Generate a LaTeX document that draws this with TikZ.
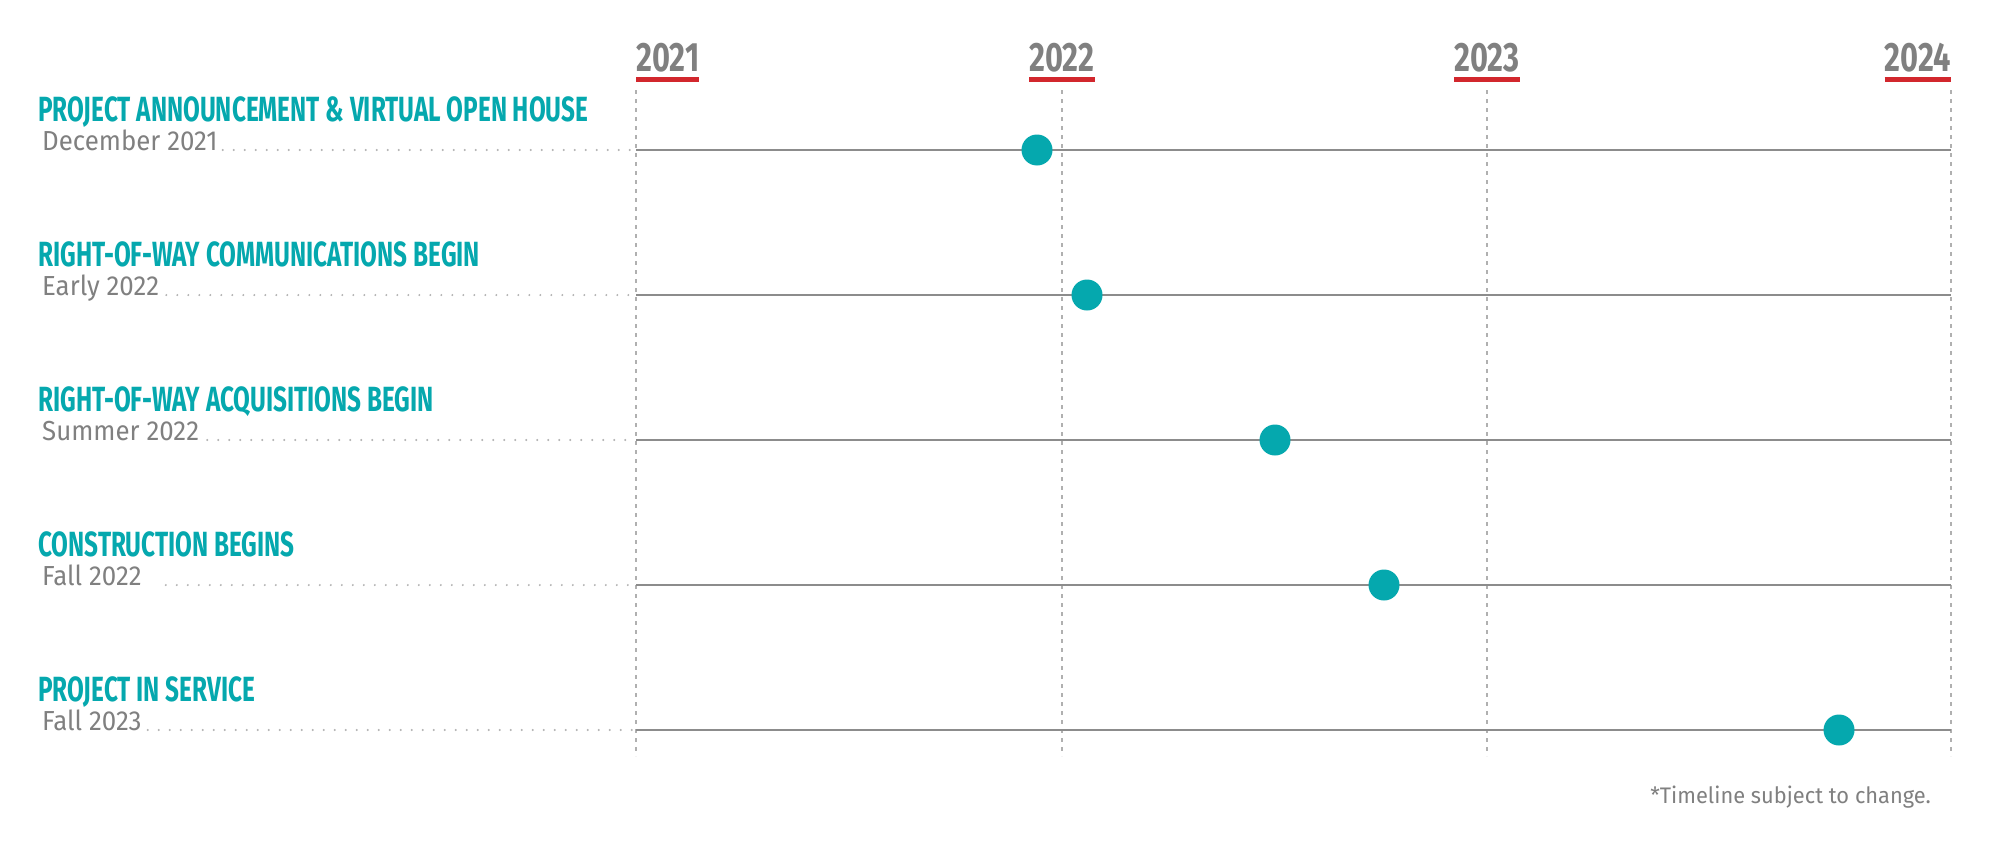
\documentclass[tikz,border=0pt]{standalone}
\usepackage{fontspec}
\setmainfont{Fira Sans}
\newfontfamily\titlefont[FakeStretch=0.695]{Fira Sans}
\newfontfamily\yearfont[FakeStretch=0.75]{Fira Sans}
\newfontfamily\datefont[FakeStretch=0.94]{Fira Sans}
\newfontfamily\notefont[FakeStretch=0.97]{Fira Sans}
\definecolor{teal1}{HTML}{05A8AE}
\definecolor{txtgray}{HTML}{808080}
\definecolor{red1}{HTML}{D2272D}
\definecolor{linegray}{HTML}{8C8C8C}
\definecolor{lightgray1}{HTML}{B0B0B0}
\tikzset{
  titlelbl/.style={anchor=base west, inner sep=0pt, text=teal1, font=\titlefont\bfseries\fontsize{35}{40}\selectfont},
  datelbl/.style={anchor=base west, inner sep=0pt, text=txtgray, font=\datefont\fontsize{27.5}{32}\selectfont},
  yearlbl/.style={inner sep=0pt, text=txtgray, font=\yearfont\bfseries\fontsize{41}{45}\selectfont},
  yearline/.style={red1, line width=5pt},
  vgrid/.style={lightgray1, line width=1.6pt, dash pattern=on 4pt off 5pt},
  rowline/.style={linegray, line width=1.8pt},
  leader/.style={lightgray1, line width=2.2pt, line cap=round, dash pattern=on 0pt off 11pt},
  milestone/.style={circle, fill=teal1, draw=none, minimum size=31pt, inner sep=0pt},
  notelbl/.style={anchor=base east, inner sep=0pt, text=txtgray, font=\notefont\fontsize{22.5}{26}\selectfont}
}
\begin{document}
\begin{tikzpicture}[x=1pt,y=-1pt]
\useasboundingbox[fill=white] (0,0) rectangle (1993,846);
% year grid
\foreach \n/\x in {a/636,b/1062,c/1487,d/1951}{
  \coordinate (gt\n) at (\x,90);
  \coordinate (gb\n) at (\x,756);
  \draw[vgrid] (gt\n) -- (gb\n);
}
\node[yearlbl, anchor=base west] (ya) at (636,71) {2021};
\node[yearlbl, anchor=base] (yb) at (1062,71) {2022};
\node[yearlbl, anchor=base] (yc) at (1487,71) {2023};
\node[yearlbl, anchor=base east] (yd) at (1951,71) {2024};
\foreach \n in {ya,yb,yc,yd}{
  \draw[yearline] (\n.west |- 0,79) -- (\n.east |- 0,79);
}
% rows
\foreach \i/\y/\t/\d/\px/\g in {
  1/150/{PROJECT ANNOUNCEMENT \& VIRTUAL OPEN HOUSE}/{December 2021}/1037/5,
  2/295/{RIGHT-OF-WAY COMMUNICATIONS BEGIN}/{Early 2022}/1087/7,
  3/440/{RIGHT-OF-WAY ACQUISITIONS BEGIN}/{Summer 2022}/1275/8,
  4/585/{CONSTRUCTION BEGINS}/{Fall 2022}/1384/24,
  5/730/{PROJECT IN SERVICE}/{Fall 2023}/1839/6}{
  \node[titlelbl] (t\i) at (38,\y-29) {\t};
  \node[datelbl] (d\i) at (42,\y) {\d};
  \coordinate (s\i) at (636,\y);
  \coordinate (e\i) at (1951,\y);
  \coordinate (l\i) at ([xshift=\g pt]d\i.base east);
  \draw[leader] (l\i) -- (s\i);
  \draw[rowline] (s\i) -- (e\i);
  \node[milestone] (m\i) at (\px,\y) {};
}
\node[notelbl] (note) at (1931,803) {*Timeline subject to change.};
\end{tikzpicture}
\end{document}
